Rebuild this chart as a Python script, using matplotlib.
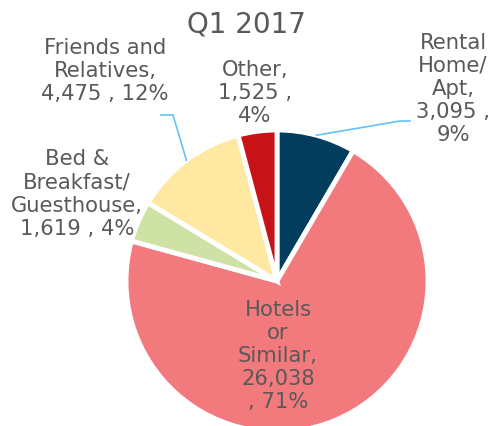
import numpy as np
import matplotlib.pyplot as plt

# data (clockwise from 12 o'clock)
categories = ["Rental\nHome/\nApt", "Hotels\nor\nSimilar", "Bed &\nBreakfast/\nGuesthouse",
              "Friends and\nRelatives", "Other"]
values = [3095, 26038, 1619, 4475, 1525]
value_labels = ["3,095 ,\n9%", "26,038\n, 71%", "1,619 , 4%", "4,475 , 12%", "1,525 ,\n4%"]
colors = ["#023D5E", "#F27A7D", "#CFE2A5", "#FFE8A1", "#C71318"]
title = "Q1 2017"

TEXT = "#595959"
LEADER = "#63C3F5"
W, H = 493, 427

fig = plt.figure(figsize=(W / 100, H / 100), dpi=100)
ax = fig.add_axes([0, 0, 1, 1])

cx, cy, r = 277, H - 282, 151
wedges, _ = ax.pie(values, colors=colors, startangle=90, counterclock=False,
                   center=(cx, cy), radius=r,
                   wedgeprops=dict(edgecolor="white", linewidth=3.5))
ax.set_xlim(0, W)
ax.set_ylim(0, H)
ax.set_aspect("equal")
ax.axis("off")

fs = 15.2
# label positions (pixel coords from top-left)
label_pos = [(453, 89), (278, 356), (77, 194), (105, 71), (255, 93)]
for cat, val, (x, y) in zip(categories, value_labels, label_pos):
    ax.text(x, H - y, cat + ",\n" + val, ha="center", va="center",
            fontsize=fs, color=TEXT, linespacing=1.2)


def anchor(w, frac=1.0):
    ang = np.deg2rad((w.theta1 + w.theta2) / 2)
    return cx + frac * r * np.cos(ang), cy + frac * r * np.sin(ang)

# leader lines
ax0, ay0 = anchor(wedges[0])
ax.plot([ax0, 400, 410], [ay0, H - 122, H - 122], color=LEADER, lw=1.2)
ax3, ay3 = anchor(wedges[3])
ax.plot([ax3, 173, 161], [ay3, H - 116, H - 116], color=LEADER, lw=1.2)

ax.text(246, H - 24, title, ha="center", va="center", fontsize=20, color=TEXT)

fig.savefig("out.png", dpi=100)
